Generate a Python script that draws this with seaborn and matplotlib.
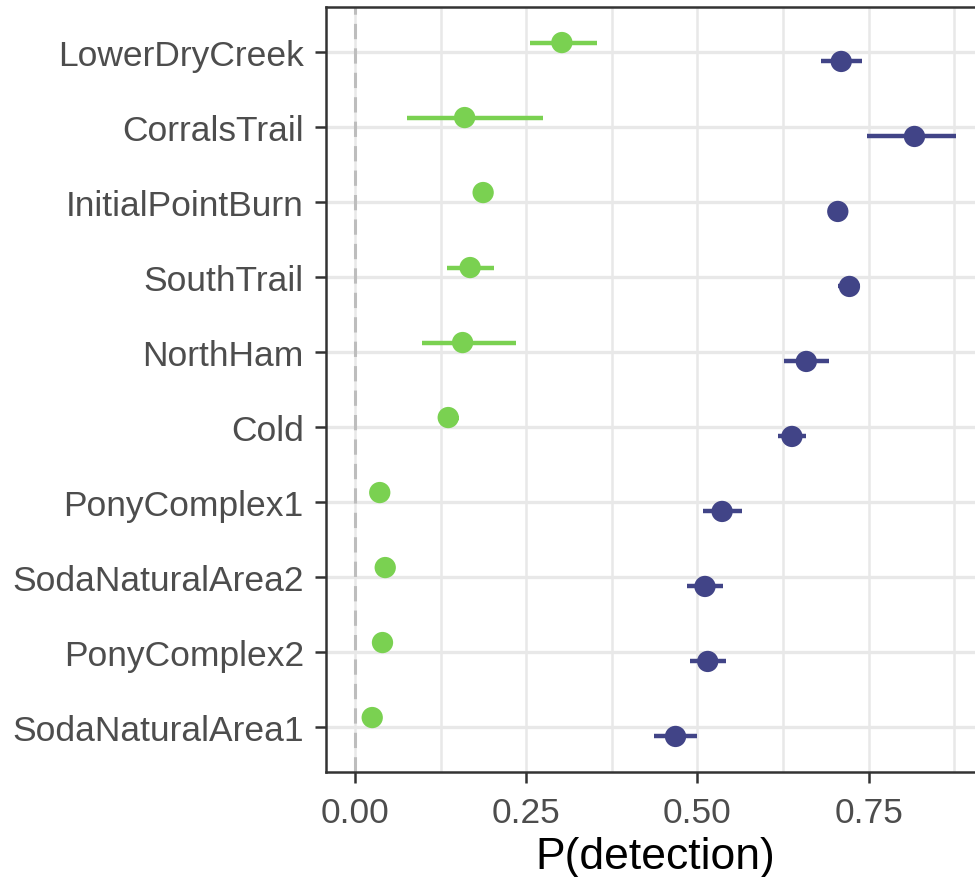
import numpy as np
import pandas as pd
import matplotlib
matplotlib.use("Agg")
import matplotlib.pyplot as plt
import seaborn as sns

sites = ["LowerDryCreek", "CorralsTrail", "InitialPointBurn", "SouthTrail", "NorthHam",
         "Cold", "PonyComplex1", "SodaNaturalArea2", "PonyComplex2", "SodaNaturalArea1"]

# series 1 (green)
g_mean = [0.302, 0.160, 0.187, 0.168, 0.157, 0.136, 0.036, 0.044, 0.040, 0.025]
g_lo   = [0.256, 0.076, 0.180, 0.134, 0.098, 0.128, 0.032, 0.040, 0.036, 0.021]
g_hi   = [0.354, 0.274, 0.194, 0.203, 0.235, 0.152, 0.040, 0.048, 0.044, 0.029]
# series 2 (blue)
b_mean = [0.710, 0.817, 0.705, 0.722, 0.659, 0.638, 0.536, 0.511, 0.515, 0.468]
b_lo   = [0.680, 0.748, 0.690, 0.706, 0.626, 0.618, 0.508, 0.485, 0.489, 0.437]
b_hi   = [0.740, 0.877, 0.720, 0.738, 0.692, 0.658, 0.565, 0.538, 0.541, 0.500]

x_ticks = [0.00, 0.25, 0.50, 0.75]
x_tick_labels = ["0.00", "0.25", "0.50", "0.75"]
x_label = "P(detection)"

series_names = ["green", "blue"]
colors = {"green": "#7AD151", "blue": "#414487"}

rows = []
for i, s in enumerate(sites):
    rows.append(dict(site=s, series="green", p=g_mean[i], lo=g_lo[i], hi=g_hi[i], pos=i - 0.126))
    rows.append(dict(site=s, series="blue", p=b_mean[i], lo=b_lo[i], hi=b_hi[i], pos=i + 0.126))
df = pd.DataFrame(rows)

sns.set_theme(style="white")
plt.rcParams['font.family'] = ['Liberation Sans', 'DejaVu Sans']

fig = plt.figure(figsize=(9.75, 8.78), dpi=100)
ax = fig.add_axes([326/975, 105/878, 659/975, 765/878])

# grid
for v in np.arange(-0.125, 1.0, 0.125):
    ax.axvline(v, color="#E8E8E8", lw=1.8, zorder=0)
for i in range(len(sites)):
    ax.axhline(i, color="#E8E8E8", lw=2.4, zorder=0)

ax.axvline(0, color="#BDBDBD", lw=2.2, ls=(0, (5, 3)), zorder=1)

for name in series_names:
    d = df[df.series == name]
    ax.hlines(d["pos"], d["lo"], d["hi"], color=colors[name], lw=3.2, zorder=2)
sns.scatterplot(data=df, x="p", y="pos", hue="series", palette=colors, s=235,
                edgecolor="none", legend=False, ax=ax, zorder=3)

ax.set_xlim(-0.0425, 0.92)
ax.set_ylim(len(sites) - 1 + 0.6, -0.6)
ax.set_yticks(range(len(sites)))
ax.set_yticklabels(sites)
ax.set_xticks(x_ticks)
ax.set_xticklabels(x_tick_labels)
ax.set_xlabel(x_label, fontsize=32, color="black", labelpad=5)
ax.set_ylabel("")
ax.tick_params(axis="both", labelsize=25.5, labelcolor="#4D4D4D", color="#333333",
               length=8, width=1.8, pad=8, left=True, bottom=True)
ax.tick_params(axis="x", pad=9)
for sp in ax.spines.values():
    sp.set_color("#333333")
    sp.set_linewidth(1.8)
    sp.set_visible(True)

fig.savefig("out.png", dpi=100)
